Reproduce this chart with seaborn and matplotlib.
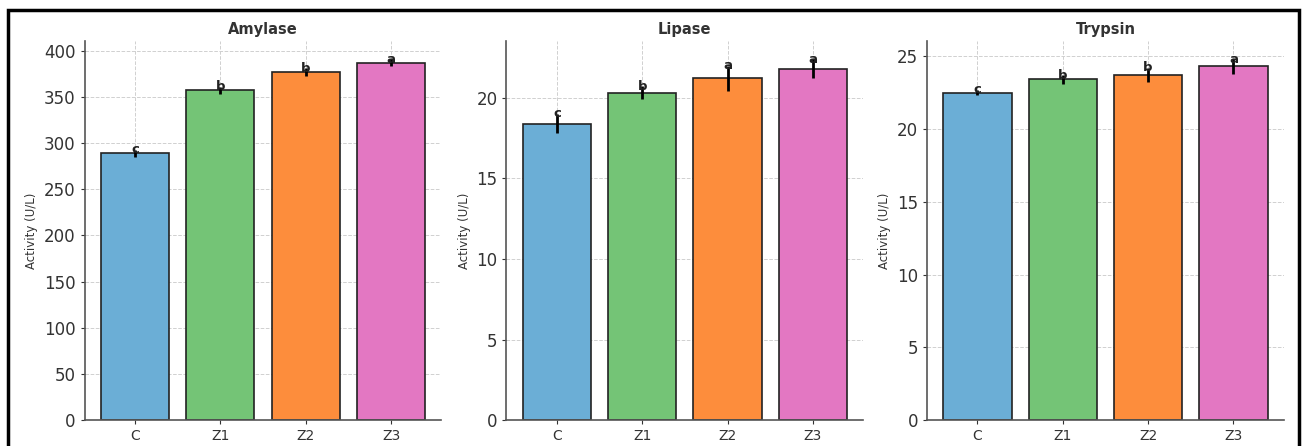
import numpy as np
import pandas as pd
import matplotlib
matplotlib.use("Agg")
import matplotlib.pyplot as plt
import seaborn as sns
from matplotlib.patches import Rectangle

# ==========================================
# 資料
# ==========================================
groups = ["C", "Z1", "Z2", "Z3"]
colors = ["#6baed6", "#74c476", "#fd8d3c", "#e377c2"]

amylase_mean = [289.0, 357.0, 377.0, 387.0]
amylase_err = [4.0, 4.0, 4.0, 4.0]
amylase_letters = ["c", "b", "b", "a"]

lipase_mean = [18.4, 20.3, 21.2, 21.8]
lipase_err = [0.6, 0.4, 0.8, 0.6]
lipase_letters = ["c", "b", "a", "a"]

trypsin_mean = [22.5, 23.4, 23.7, 24.3]
trypsin_err = [0.2, 0.3, 0.5, 0.5]
trypsin_letters = ["c", "b", "b", "a"]

enzymes = ["Amylase", "Lipase", "Trypsin"]
means = [amylase_mean, lipase_mean, trypsin_mean]
errs = [amylase_err, lipase_err, trypsin_err]
letters = [amylase_letters, lipase_letters, trypsin_letters]

sns.set_style("whitegrid", {"grid.linestyle": "--", "grid.color": "#d0d0d0"})
plt.rcParams["font.family"] = ["DejaVu Sans"]

fig = plt.figure(figsize=(13.02, 4.46), dpi=100)
lefts = [0.065, 0.389, 0.712]
w, b, h = 0.274, 0.058, 0.850

for k in range(3):
    ax = fig.add_axes([lefts[k], b, w, h])
    df = pd.DataFrame({"group": groups, "value": means[k]})
    sns.barplot(data=df, x="group", y="value", hue="group", palette=colors,
                saturation=1, edgecolor="#222222", linewidth=1.2, errorbar=None,
                legend=False, ax=ax)
    xs = np.arange(len(groups))
    ax.errorbar(xs, means[k], yerr=errs[k], fmt="none", ecolor="black",
                elinewidth=2, capsize=0, zorder=5)
    for xi, m, e, l in zip(xs, means[k], errs[k], letters[k]):
        ax.text(xi, m + e, l, ha="center", va="center", fontsize=9.5,
                fontweight="bold", color="#222222", zorder=6)
    ax.set_title(enzymes[k], fontsize=10.5, fontweight="bold", color="#333333", pad=5)
    ax.set_xlabel("")
    ax.set_ylabel("Activity (U/L)", fontsize=8.5, color="#333333")
    ax.set_xlim(-0.59, 3.59)
    ax.set_ylim(0, (max(np.array(means[k]) + np.array(errs[k]))) * 1.05)
    ax.tick_params(axis="y", labelsize=12, colors="#333333", length=3, left=True)
    ax.tick_params(axis="x", labelsize=10, colors="#333333", length=3, bottom=True)
    ax.grid(True, axis="both", linestyle="--", color="#d0d0d0", linewidth=0.7)
    for s in ["top", "right"]:
        ax.spines[s].set_visible(False)
    for s in ["left", "bottom"]:
        ax.spines[s].set_color("#555555")
        ax.spines[s].set_linewidth(1.2)

# 外框
fig.add_artist(Rectangle((8 / 1302, -0.1), (1299 - 8) / 1302, 1.1 - 10 / 446,
                         transform=fig.transFigure, fill=False,
                         edgecolor="black", linewidth=2.5))

fig.savefig("out.png", dpi=100)
